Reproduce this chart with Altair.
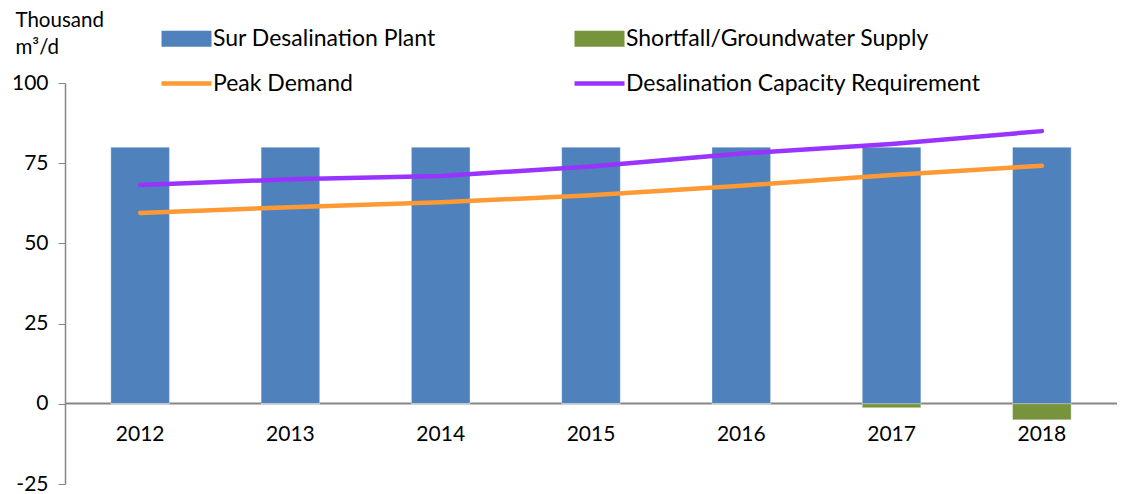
import altair as alt
import pandas as pd

years = ["2012", "2013", "2014", "2015", "2016", "2017", "2018"]
sur_plant = [80, 80, 80, 80, 80, 80, 80]
shortfall = [0, 0, 0, 0, 0, -1.2, -5.0]
peak_demand = [59.5, 61.3, 62.8, 65.0, 68.0, 71.3, 74.2]
desal_req = [68.2, 70.0, 71.0, 74.0, 78.0, 81.0, 85.0]

series = ["Sur Desalination Plant", "Shortfall/Groundwater Supply",
          "Peak Demand", "Desalination Capacity Requirement"]
colors = ["#4F81BD", "#77933C", "#FF9933", "#9933FF"]

rows = []
for name, vals in [(series[0], sur_plant), (series[1], shortfall)]:
    for y, v in zip(years, vals):
        rows.append({"year": y, "series": name, "value": v, "kind": "bar"})
for name, vals in [(series[2], peak_demand), (series[3], desal_req)]:
    for y, v in zip(years, vals):
        rows.append({"year": y, "series": name, "value": v, "kind": "line"})
df = pd.DataFrame(rows)

FONT = "Lato"
bar_path = "M-2.5,-0.8H2.5V0.8H-2.5Z"
line_path = "M-2.5,-0.22H2.5V0.22H-2.5Z"
sym_expr = ("indexof(['Peak Demand','Desalination Capacity Requirement'], datum.value) >= 0 ? '"
            + line_path + "' : '" + bar_path + "'")

xenc = alt.X("year:N", sort=years,
             scale=alt.Scale(paddingInner=0.61, paddingOuter=0.305),
             axis=alt.Axis(title=None, ticks=False, labelAngle=0, labelPadding=20,
                           offset=-81, domainColor="#868686", domainWidth=2,
                           labelFont=FONT, labelFontSize=21, labelColor="#000000"))
yscale = alt.Scale(domain=[-25, 100], nice=False, zero=False)
yaxis = alt.Axis(values=[-25, 0, 25, 50, 75, 100], grid=False,
                 labelExpr="'' + datum.value",
                 title=["Thousand", "m³/d"], titleAngle=0, titleAlign="left",
                 titleBaseline="alphabetic", titleX=-50, titleY=-57,
                 titleLineHeight=27,
                 titleFont=FONT, titleFontSize=20.5, titleFontWeight="normal", titleColor="#000000",
                 labelFont=FONT, labelFontSize=21, labelColor="#000000", labelPadding=10,
                 tickSize=7, tickColor="#868686", domainColor="#868686", domainWidth=1.5)

color = alt.Color("series:N",
                  scale=alt.Scale(domain=series, range=colors),
                  legend=alt.Legend(title=None, orient="none", legendX=110, legendY=-56,
                                    direction="horizontal",
                                    columns=2, columnPadding=138, rowPadding=21,
                                    symbolSize=400, symbolType=alt.ExprRef(expr=sym_expr),
                                    symbolStrokeWidth=0, symbolOpacity=1,
                                    labelFont=FONT, labelFontSize=23, labelColor="#000000",
                                    labelOffset=15, labelLimit=500))

bars = alt.Chart(df).transform_filter(alt.datum.kind == "bar").mark_bar(
    stroke="#ffffff", strokeOpacity=0.35, strokeWidth=1
).encode(
    x=xenc,
    y=alt.Y("value:Q", scale=yscale, axis=yaxis, stack=None),
    color=color,
)

lines = alt.Chart(df).transform_filter(alt.datum.kind == "line").mark_line(
    strokeWidth=4.5, strokeCap="round"
).encode(
    x=alt.X("year:N", sort=years),
    y=alt.Y("value:Q", scale=yscale),
    color=alt.Color("series:N", scale=alt.Scale(domain=series, range=colors), legend=None),
    detail="series:N",
)

chart = alt.layer(bars, lines).properties(
    width=1052, height=401,
    autosize=alt.AutoSizeParams(type="none"),
    padding={"left": 57, "top": 75, "right": 0, "bottom": 9},
).configure_view(stroke=None)

chart.save("out.html", embed_options={"renderer": "svg", "actions": False})
